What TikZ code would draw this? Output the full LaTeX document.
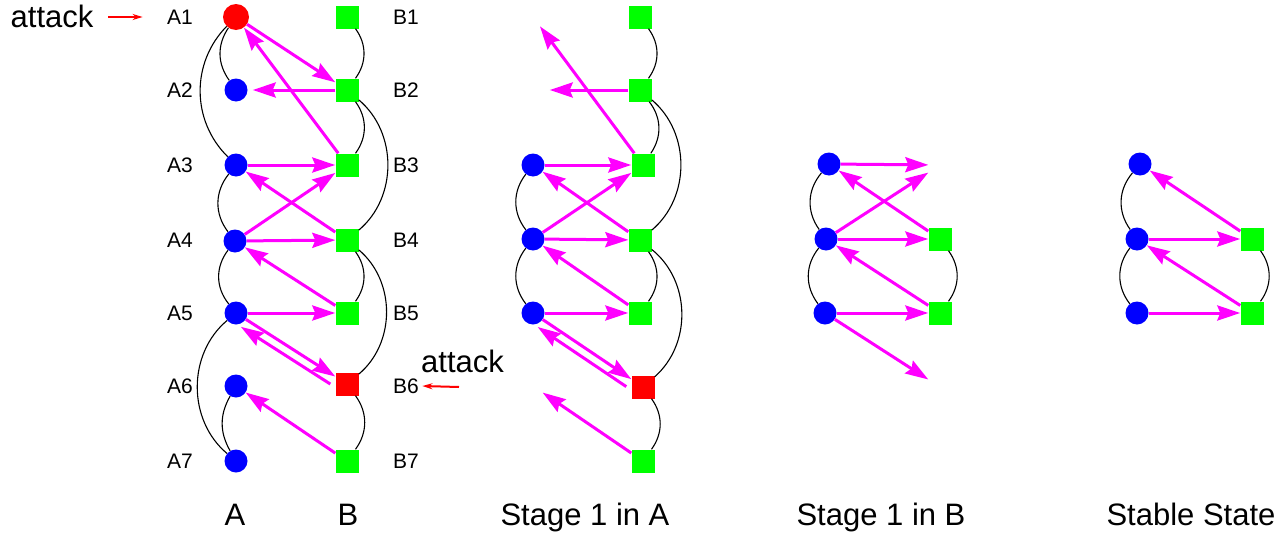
\documentclass[tikz,border=0pt]{standalone}
\usepackage{fontspec}
\setmainfont{Liberation Sans}
\usetikzlibrary{arrows.meta}
\definecolor{mag}{RGB}{255,0,255}
\definecolor{gr}{RGB}{0,255,0}
\definecolor{bl}{RGB}{0,0,255}
\definecolor{rd}{RGB}{255,0,0}
\begin{document}
\begin{tikzpicture}[x=1pt,y=-1pt,
  anode/.style={circle, fill=bl, minimum size=23pt, inner sep=0pt},
  rnode/.style={circle, fill=rd, minimum size=26pt, inner sep=0pt},
  bnode/.style={rectangle, fill=gr, minimum size=23pt, inner sep=0pt},
  rbnode/.style={rectangle, fill=rd, minimum size=23pt, inner sep=0pt},
  ghostA/.style={circle, minimum size=23pt, inner sep=0pt},
  ghostB/.style={rectangle, minimum size=23pt, inner sep=0pt},
  arr/.style={draw=mag, line width=3pt, -{Stealth[length=23pt,width=15pt,inset=3pt]}},
  link/.style={draw=black, line width=1.1pt},
  lbl/.style={font=\fontsize{21}{24}\selectfont},
  capt/.style={font=\fontsize{31}{36}\selectfont, anchor=base},
  atttxt/.style={font=\fontsize{31}{36}\selectfont, anchor=base},
  attarr/.style={draw=rd, line width=2pt, -{Stealth[length=10pt,width=6pt]}},
  down/.style={transform canvas={shift={(-5pt,-7.5pt)}}}
]
\useasboundingbox (0,0) rectangle (1286,533);

% ---------- Panel 1 ----------
\node[rnode] (a1) at (236,17) {};
\node[anode] (a2) at (236,90) {};
\node[anode] (a3) at (236,165) {};
\node[anode] (a4) at (235,241) {};
\node[anode] (a5) at (236,313) {};
\node[anode] (a6) at (236,386) {};
\node[anode] (a7) at (236,461) {};
\node[bnode] (b1) at (347,17) {};
\node[bnode] (b2) at (347,90) {};
\node[bnode] (b3) at (347,165) {};
\node[bnode] (b4) at (347,240) {};
\node[bnode] (b5) at (347,313) {};
\node[rbnode] (b6) at (347,384) {};
\node[bnode] (b7) at (347,461) {};

\node[lbl] (lA1) at (180,17) {A1};
\node[lbl] (lA2) at (180,90) {A2};
\node[lbl] (lA3) at (180,165) {A3};
\node[lbl] (lA4) at (180,240) {A4};
\node[lbl] (lA5) at (180,313) {A5};
\node[lbl] (lA6) at (180,386) {A6};
\node[lbl] (lA7) at (180,461) {A7};
\node[lbl] (lB1) at (406,17) {B1};
\node[lbl] (lB2) at (406,90) {B2};
\node[lbl] (lB3) at (406,165) {B3};
\node[lbl] (lB4) at (406,240) {B4};
\node[lbl] (lB5) at (406,313) {B5};
\node[lbl] (lB6) at (406,386) {B6};
\node[lbl] (lB7) at (406,461) {B7};

\draw[link] (a1) to[bend right=35] (a2);
\draw[link] (a1) to[bend right=45] (a3);
\draw[link] (a3) to[bend right=38] (a4);
\draw[link] (a4) to[bend right=38] (a5);
\draw[link] (a5) to[bend right=50] (a7);
\draw[link] (a6) to[bend right=30] (a7);
\draw[link] (b1) to[bend left=36] (b2);
\draw[link] (b2) to[bend left=36] (b3);
\draw[link] (b2) to[bend left=50] (b4);
\draw[link] (b4) to[bend left=36] (b5);
\draw[link] (b4) to[bend left=50] (b6);
\draw[link] (b6) to[bend left=36] (b7);

\draw[arr] (a1) -- (b2);
\draw[arr] (b3) -- (a1);
\draw[arr, shorten >=5pt] (b2) -- (a2);
\draw[arr] (a3) -- (b3);
\draw[arr] (b4) -- (a3);
\draw[arr] (a4) -- (b3);
\draw[arr] (a4) -- (b4);
\draw[arr] (b5) -- (a4);
\draw[arr] (a5) -- (b5);
\draw[arr] (a5) -- (b6);
\draw[arr, down] (b6) -- (a5);
\draw[arr] (b7) -- (a6);

% attack markers
\node[atttxt] (att1) at (52,27) {attack};
\coordinate (att1tail) at (108,17);
\draw[attarr, shorten >=21pt] (att1tail) -- (lA1.west);
\node[atttxt] (att2) at (462.5,372) {attack};
\coordinate (att2tail) at (459,387);
\draw[attarr] (att2tail) -- (lB6.east);

% ---------- Panel 2 ----------
\node[ghostA] (pa1) at (533,17) {};
\node[ghostA] (pa2) at (533,90) {};
\node[anode] (pa3) at (533,165) {};
\node[anode] (pa4) at (533,239) {};
\node[anode] (pa5) at (533,313) {};
\node[ghostA] (pa6) at (533,386) {};
\node[bnode] (pb1) at (640,17) {};
\node[bnode] (pb2) at (640,90) {};
\node[bnode] (pb3) at (643,165) {};
\node[bnode] (pb4) at (640,240) {};
\node[bnode] (pb5) at (640,313) {};
\node[rbnode] (pb6) at (643,387) {};
\node[bnode] (pb7) at (643,461) {};

\draw[link] (pa3) to[bend right=38] (pa4);
\draw[link] (pa4) to[bend right=38] (pa5);
\draw[link] (pb1) to[bend left=36] (pb2);
\draw[link] (pb2) to[bend left=36] (pb3);
\draw[link] (pb2) to[bend left=50] (pb4);
\draw[link] (pb4) to[bend left=36] (pb5);
\draw[link] (pb4) to[bend left=50] (pb6);
\draw[link] (pb6) to[bend left=36] (pb7);

\draw[arr] (pb3) -- (pa1);
\draw[arr, shorten >=5pt] (pb2) -- (pa2);
\draw[arr] (pa3) -- (pb3);
\draw[arr] (pb4) -- (pa3);
\draw[arr] (pa4) -- (pb3);
\draw[arr] (pa4) -- (pb4);
\draw[arr] (pb5) -- (pa4);
\draw[arr] (pa5) -- (pb5);
\draw[arr] (pa5) -- (pb6);
\draw[arr, down] (pb6) -- (pa5);
\draw[arr] (pb7) -- (pa6);

% ---------- Panel 3 ----------
\node[anode] (qa3) at (829,164) {};
\node[anode] (qa4) at (826,239) {};
\node[anode] (qa5) at (825,313) {};
\node[ghostB] (qb3) at (940,165) {};
\node[bnode] (qb4) at (940,239) {};
\node[bnode] (qb5) at (940,313) {};
\node[ghostB] (qb6) at (940,387) {};

\draw[link] (qa3) to[bend right=38] (qa4);
\draw[link] (qa4) to[bend right=38] (qa5);
\draw[link] (qb4) to[bend left=36] (qb5);

\draw[arr] (qa3) -- (qb3);
\draw[arr] (qb4) -- (qa3);
\draw[arr] (qa4) -- (qb3);
\draw[arr] (qa4) -- (qb4);
\draw[arr] (qb5) -- (qa4);
\draw[arr] (qa5) -- (qb5);
\draw[arr] (qa5) -- (qb6);

% ---------- Panel 4 ----------
\node[anode] (ra3) at (1140,164) {};
\node[anode] (ra4) at (1137,239) {};
\node[anode] (ra5) at (1137,313) {};
\node[bnode] (rb4) at (1252,239) {};
\node[bnode] (rb5) at (1252,313) {};

\draw[link] (ra3) to[bend right=38] (ra4);
\draw[link] (ra4) to[bend right=38] (ra5);
\draw[link] (rb4) to[bend left=36] (rb5);

\draw[arr] (rb4) -- (ra3);
\draw[arr] (ra4) -- (rb4);
\draw[arr] (rb5) -- (ra4);
\draw[arr] (ra5) -- (rb5);

% ---------- Captions ----------
\node[capt] (capA) at (235,525) {A};
\node[capt] (capB) at (348,525) {B};
\node[capt] (capS1A) at (585,525) {Stage 1 in A};
\node[capt] (capS1B) at (881,525) {Stage 1 in B};
\node[capt] (capSS) at (1191,525) {Stable State};
\end{tikzpicture}
\end{document}
